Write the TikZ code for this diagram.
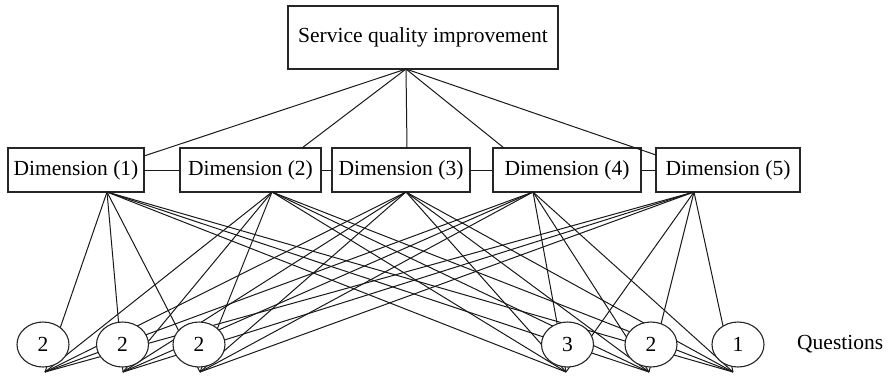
\documentclass[tikz,border=0pt]{standalone}
\usepackage{fontspec}
\setmainfont{Liberation Serif}
\usetikzlibrary{shapes.geometric}
\begin{document}
\begin{tikzpicture}[x=1pt,y=-1pt,
  txt/.style={font=\fontsize{21.5}{25}\selectfont},
  box/.style={txt, draw=black!85, line width=1.1pt, fill=white, inner sep=0pt, minimum height=44pt},
  qnode/.style={txt, ellipse, draw=black!85, line width=1.1pt, fill=white, inner sep=0pt,
                minimum width=52pt, minimum height=45pt},
  link/.style={draw=black!90, line width=1pt}]
\useasboundingbox (0,0) rectangle (889,376);

% goal and dimensions
\node[box, minimum width=270pt, minimum height=63pt] (top) at (423,37.5) {Service quality improvement};
\node[box, minimum width=136pt] (d1) at (76,170)    {Dimension (1)};
\node[box, minimum width=141pt] (d2) at (250.5,170) {Dimension (2)};
\node[box, minimum width=138pt] (d3) at (401,170)   {Dimension (3)};
\node[box, minimum width=148pt] (d4) at (567,170)   {Dimension (4)};
\node[box, minimum width=144pt] (d5) at (728,170)   {Dimension (5)};

% attachment points
\coordinate (tp) at (406,69);
\coordinate (e1) at (144,156);
\coordinate (e2) at (302,148);
\coordinate (e3) at (407,148);
\coordinate (e4) at (504,148);
\coordinate (e5) at (656,155);

\coordinate (p1) at (107,192);
\coordinate (p2) at (272,192);
\coordinate (p3) at (406,192);
\coordinate (p4) at (533,192);
\coordinate (p5) at (694,192);

\coordinate (b1) at (45,372);
\coordinate (b2) at (123,372);
\coordinate (b3) at (200,372);
\coordinate (b4) at (566,372);
\coordinate (b5) at (649,372);
\coordinate (b6) at (733,372);

% goal to dimensions
\foreach \i in {1,...,5} \draw[link] (tp) -- (e\i);

% chain between dimensions
\draw[link] (d1.east) -- (d2.west);
\draw[link] (d2.east) -- (d3.west);
\draw[link] (d3.east) -- (d4.west);
\draw[link] (d4.east) -- (d5.west);

% every dimension to every question group
\foreach \i in {1,...,5}
  \foreach \j in {1,...,6}
    \draw[link] (p\i) -- (b\j);

% question groups
\node[qnode] (q1) at (43,344.5)  {2};
\node[qnode] (q2) at (122.5,344.5) {2};
\node[qnode] (q3) at (199,344.5) {2};
\node[qnode] (q4) at (567.5,344.5) {3};
\node[qnode] (q5) at (651,344.5) {2};
\node[qnode] (q6) at (738,344.5) {1};

\node[txt, anchor=west, inner sep=0pt] (ql) at (797,344) {Questions};
\end{tikzpicture}
\end{document}
